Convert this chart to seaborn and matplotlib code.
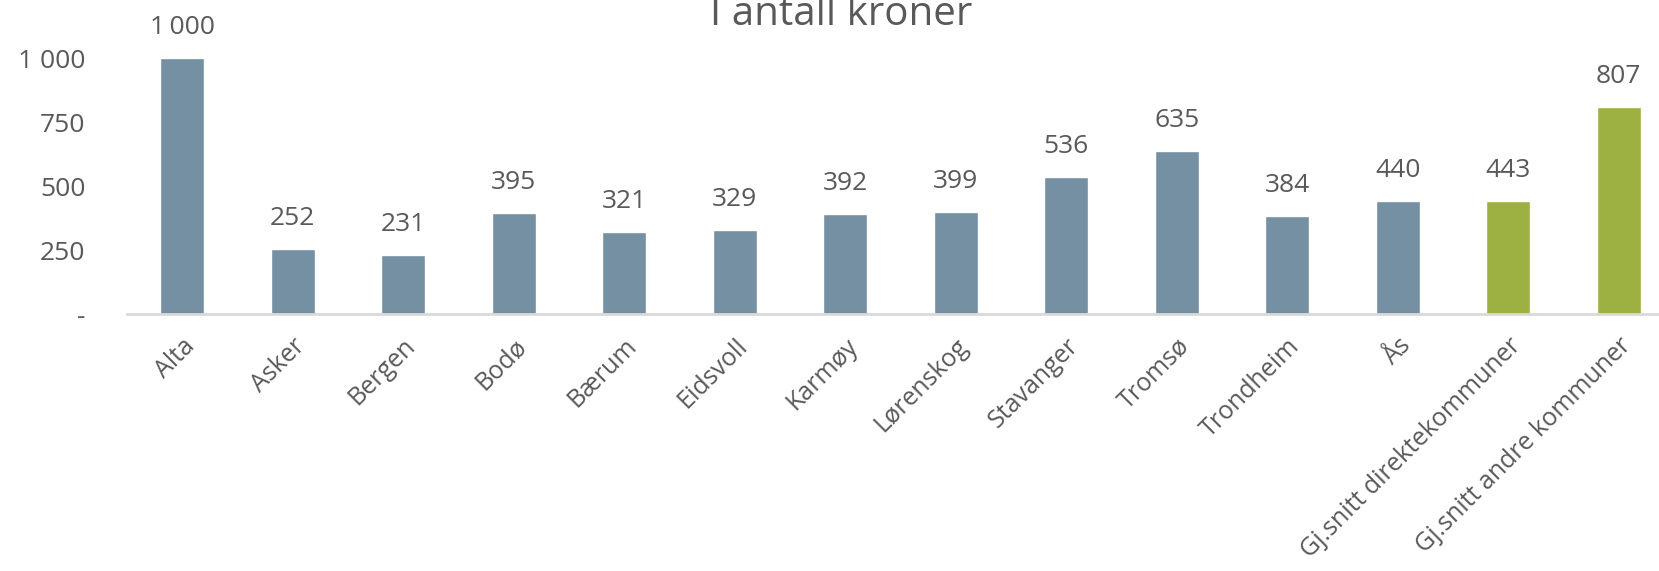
import pandas as pd
import seaborn as sns
import matplotlib.pyplot as plt

# values (kroner)
kommuner = ['Alta', 'Asker', 'Bergen', 'Bodø', 'Bærum', 'Eidsvoll', 'Karmøy',
            'Lørenskog', 'Stavanger', 'Tromsø', 'Trondheim', 'Ås',
            'Gj.snitt direktekommuner', 'Gj.snitt andre kommuner']
verdier = [1000, 252, 231, 395, 321, 329, 392, 399, 536, 635, 384, 440, 443, 807]
gruppe = ['kommune'] * 12 + ['snitt'] * 2
verdi_tekst = ['1\u2009000', '252', '231', '395', '321', '329', '392', '399',
               '536', '635', '384', '440', '443', '807']

df = pd.DataFrame({'kommune': kommuner, 'kroner': verdier, 'gruppe': gruppe})

sns.set_style('white')
plt.rcParams['font.family'] = ['Open Sans', 'DejaVu Sans']
tekstfarge = '#595959'

fig = plt.figure(figsize=(16.59, 5.71), dpi=100)
# axes runs past the right edge, as in the cropped original
ax = fig.add_axes([127 / 1659, 1 - 314 / 571, 1547 / 1659, 256 / 571])

sns.barplot(data=df, x='kommune', y='kroner', hue='gruppe',
            palette={'kommune': '#7490A2', 'snitt': '#9DB042'},
            width=0.4, dodge=False, legend=False, ax=ax, saturation=1)

# bar labels per group
for cont, g in zip(ax.containers, ['kommune', 'snitt']):
    idx = [i for i, gg in enumerate(gruppe) if gg == g]
    ax.bar_label(cont, labels=[verdi_tekst[i] for i in idx], padding=13,
                 fontsize=19, color=tekstfarge)

ax.set_ylim(0, 1000)
ax.set_xlim(-0.5, len(kommuner) - 0.5)
ax.set_yticks([0, 250, 500, 750, 1000])
ax.set_yticklabels(['-', '250', '500', '750', '1 000'], fontsize=19, color=tekstfarge)
ax.tick_params(axis='y', length=0, pad=30)

ax.set_xticks(range(len(kommuner)))
ax.set_xticklabels(kommuner, rotation=45, ha='right', rotation_mode='anchor',
                   fontsize=18, color=tekstfarge)
ax.tick_params(axis='x', length=0, pad=14)
# tick marks between categories
ax.set_xticks([i - 0.5 for i in range(len(kommuner) + 1)], minor=True)
ax.tick_params(axis='x', which='minor', length=9, width=2, color='#D9D9D9')

ax.set_xlabel('')
ax.set_ylabel('')
for side in ['top', 'right', 'left']:
    ax.spines[side].set_visible(False)
ax.spines['bottom'].set_color('#D9D9D9')
ax.spines['bottom'].set_linewidth(2)

fig.text(841 / 1659, 1 - 25 / 571, 'I antall kroner', ha='center', va='baseline',
         fontsize=29, color=tekstfarge)

fig.savefig('out.png', dpi=100)
